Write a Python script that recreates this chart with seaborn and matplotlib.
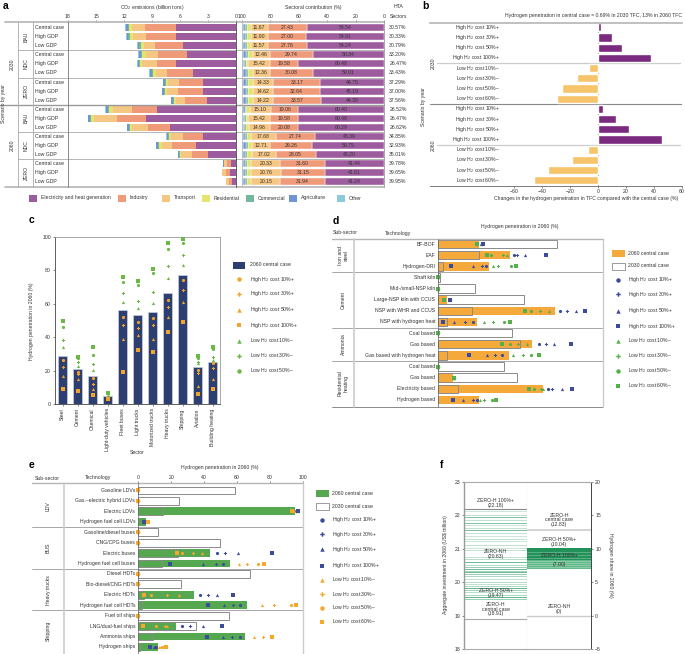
import numpy as np
import pandas as pd
import matplotlib
matplotlib.use('Agg')
import matplotlib.pyplot as plt
import seaborn as sns
from matplotlib.lines import Line2D
from matplotlib.patches import Rectangle

sns.set_theme(style='white')
plt.rcParams['font.family'] = ['Liberation Sans', 'DejaVu Sans']
plt.rcParams['mathtext.fontset'] = 'custom'
plt.rcParams['mathtext.rm'] = 'Liberation Sans'
plt.rcParams['mathtext.it'] = 'Liberation Sans:italic'
plt.rcParams['mathtext.bf'] = 'Liberation Sans:bold'
FS = 3.7
plt.rcParams['font.size'] = FS
TXT = '#333333'

# ---------------- data: panel a ----------------
a_years = ['2030', '2060']
a_scen = ['BAU', 'NDC', 'ZERO']
a_cases = ['Central case', 'High GDP', 'Low GDP']
a_total = [11.9, 11.8, 10.6, 10.5, 10.6, 9.3, 7.9, 8.0, 7.0,
           14.0, 15.9, 11.7, 7.5, 8.6, 6.3, 1.4, 1.6, 1.15]
a_elec = [54.54, 54.91, 54.24, 50.34, 60.48, 50.01, 44.75, 45.19, 44.38,
          60.40, 60.48, 60.29, 48.39, 50.75, 48.20, 41.44, 41.61, 41.24]
a_ind = [27.43, 27.00, 27.76, 29.74, 19.58, 30.08, 33.17, 32.64, 33.57,
         19.06, 19.58, 20.08, 27.74, 29.26, 28.05, 31.60, 31.15, 31.94]
a_trans = [11.67, 11.90, 11.57, 12.46, 15.42, 12.36, 14.33, 14.62, 14.22,
           15.10, 15.42, 14.96, 17.68, 12.71, 17.02, 20.33, 20.76, 20.15]
a_res = [2.9, 2.8, 2.9, 3.4, 2.0, 3.4, 3.5, 3.4, 3.5, 2.4, 2.0, 2.1, 2.8, 3.3, 3.0, 3.0, 2.9, 3.0]
a_com = [1.3, 1.3, 1.3, 1.5, 0.9, 1.5, 1.6, 1.5, 1.6, 1.1, 0.9, 0.9, 1.2, 1.5, 1.3, 1.3, 1.3, 1.3]
a_agr = [1.6, 1.6, 1.7, 1.9, 1.2, 2.0, 2.0, 2.0, 2.0, 1.4, 1.2, 1.2, 1.6, 1.9, 1.8, 1.7, 1.7, 1.7]
a_hta = ['30.57%', '30.33%', '30.79%', '33.20%', '26.47%', '33.43%', '37.29%', '37.00%', '37.56%',
         '26.52%', '26.47%', '26.62%', '34.85%', '32.93%', '35.01%', '39.78%', '39.65%', '39.95%']
a_sectors = ['Electricity and heat generation', 'Industry', 'Transport', 'Residential',
             'Commercial', 'Agriculture', 'Other']

# ---------------- data: panel b ----------------
b_years = ['2030', '2060']
b_labels = ['High H$_2$ cost 10%+', 'High H$_2$ cost 30%+', 'High H$_2$ cost 50%+', 'High H$_2$ cost 100%+',
            'Low H$_2$ cost 10%–', 'Low H$_2$ cost 30%–', 'Low H$_2$ cost 50%–', 'Low H$_2$ cost 60%–']
b_2030 = [2.4, 10.0, 17.4, 38.0, -6.0, -14.5, -25.5, -29.0]
b_2060 = [4.0, 13.0, 22.6, 45.7, -7.0, -18.6, -35.7, -45.5]

# ---------------- data: panel c ----------------
c_sectors = ['Steel', 'Cement', 'Chemical', 'Light-duty vehicles', 'Fleet buses', 'Light trucks',
             'Motorized trucks', 'Heavy trucks', 'Shipping', 'Aviation', 'Building heating']
c_central = [29, 21, 17, 5, 56.3, 53.3, 55.3, 66.3, 77.3, 22, 25]
c_h10 = [26.3, 19.0, 15.4, 4.4, 52.3, 49.3, 51.3, 62.3, 74.3, 20.4, 24.3]
c_h30 = [22.2, 18.2, 12.2, 4.0, 47.3, 45.3, 47.3, 58.3, 68.3, 18.4, 21.4]
c_h50 = [17.0, 15.0, 9.0, 3.6, 39.1, 41.1, 39.1, 52.1, 61.1, 10.8, 15.0]
c_h100 = [9.2, 8.0, 5.2, 3.2, 19.2, 32.3, 31.1, 43.3, 49.3, 6.2, 9.0]
c_l10 = [34.0, 22.7, 20.2, 5.5, 61.0, 57.3, 60.3, 75.2, 83.4, 24.4, 26.3]
c_l30 = [38.3, 25.3, 24.1, 6.0, 66.3, 61.5, 67.3, 82.6, 89.2, 25.3, 28.3]
c_l50 = [46.3, 27.7, 29.1, 6.4, 73.2, 71.3, 78.2, 92.8, 96.6, 27.5, 33.1]
c_l60 = [49.5, 28.3, 34.1, 6.8, 76.2, 73.4, 80.6, 96.6, 98.8, 28.5, 34.0]

# ---------------- data: panel d ----------------
d_groups = ['Iron and\nsteel', 'Cement', 'Ammonia', 'Residential\nheating']
d_tech = ['BF-BOF', 'EAF', 'Hydrogen-DRI', 'Shaft kiln', 'Mid-/small-NSP kiln', 'Large-NSP kiln with CCUS',
          'NSP with WHR and CCUS', 'NSP with hydrogen heat', 'Coal based', 'Gas based',
          'Gas based with hydrogen heat', 'Coal based', 'Gas based', 'Electricity based', 'Hydrogen based']
d_2060 = [24.8, 43.8, 30.9, 0, 0, 5.0, 70.7, 23.8, 0, 56.6, 43.0, 0, 8.7, 63.8, 24.8]
d_2030 = [72.1, 24.8, 3.0, 1.0, 22.2, 51.9, 20.2, 5.0, 45.0, 49.9, 5.0, 40.0, 47.9, 12.1, 0.0]
d_h10 = [26.3, 46.0, 28.9, 0, 0, 7.0, 73.7, 21.2, 0, 61.0, 38.8, 0, 9.5, 66.7, 23.6]
d_h30 = [26.3, 47.5, 26.7, 0, 0, 7.0, 78.2, 16.2, 0, 65.3, 34.3, 0, 9.5, 69.3, 20.8]
d_h50 = [26.0, 52.7, 21.2, 0, 0, 6.5, 83.8, 9.5, 0, 70.3, 29.3, 0, 9.5, 75.2, 15.2]
d_h100 = [27.0, 65.3, 7.7, 0, 0, 7.0, 88.9, 3.0, 0, 80.8, 18.6, 0, 9.5, 81.2, 9.1]
d_l10 = [23.4, 42.0, 33.3, 0, 0, 3.6, 67.0, 27.9, 0, 54.1, 45.5, 0, 9.5, 63.6, 25.3]
d_l30 = [23.4, 39.4, 36.0, 0, 0, 3.6, 62.0, 33.3, 0, 48.5, 51.5, 0, 9.5, 62.6, 27.7]
d_l50 = [23.4, 31.7, 44.4, 0, 0, 3.6, 56.0, 39.8, 0, 43.4, 56.2, 0, 9.5, 58.0, 32.7]
d_l60 = [23.4, 29.3, 46.9, 0, 0, 3.6, 52.5, 43.4, 0, 38.8, 61.0, 0, 9.5, 55.2, 34.9]

# ---------------- data: panel e ----------------
e_groups = ['LDV', 'BUS', 'Heavy trucks', 'Shipping']
e_tech = ['Gasoline LDVs', 'Gas.–electric hybrid LDVs', 'Electric LDVs', 'Hydrogen fuel cell LDVs',
          'Gasoline/diesel buses', 'CNG/CPG buses', 'Electric buses', 'Hydrogen fuel cell buses',
          'Diesel HDTs', 'Bio-diesel/CNG HDTs', 'Electric HDTs', 'Hydrogen fuel cell HDTs',
          'Fuel oil ships', 'LNG/dual-fuel ships', 'Ammonia ships', 'Hydrogen ships']
e_2060 = [0, 0, 95.1, 4.7, 0, 0, 43.8, 55.8, 0, 0, 33.9, 65.9, 0, 22.7, 64.9, 11.8]
e_2030 = [59.0, 25.0, 14.8, 0, 12.2, 49.9, 23.9, 14.2, 68.2, 26.2, 3.7, 2.0, 55.0, 35.1, 9.1, 1.0]
e_h10 = [0, 0, 95.8, 4.2, 0, 0, 47.9, 51.3, 0, 0, 37.7, 62.1, 0, 26.4, 62.1, 10.8]
e_h30 = [0, 0, 96.2, 3.9, 0, 0, 52.7, 47.3, 0, 0, 42.2, 57.8, 0, 31.6, 57.2, 10.3]
e_h50 = [0, 0, 96.6, 3.6, 0, 0, 60.6, 39.1, 0, 0, 47.9, 52.3, 0, 39.1, 51.5, 9.7]
e_h100 = [0, 0, 97.0, 3.3, 0, 0, 81.1, 19.3, 0, 0, 57.4, 42.6, 0, 50.7, 42.0, 7.1]
e_l10 = [0, 0, 94.6, 5.0, 0, 0, 38.5, 61.0, 0, 0, 25.0, 75.0, 0, 17.5, 70.6, 12.8]
e_l30 = [0, 0, 94.3, 5.3, 0, 0, 33.5, 66.1, 0, 0, 17.6, 82.6, 0, 16.0, 75.7, 14.0]
e_l50 = [0, 0, 94.0, 5.6, 0, 0, 26.6, 72.8, 0, 0, 7.5, 92.7, 0, 10.5, 81.1, 15.2]
e_l60 = [0, 0, 93.7, 5.9, 0, 0, 23.3, 76.3, 0, 0, 3.7, 96.1, 0, 3.0, 81.5, 16.6]

# ---------------- data: panel f ----------------
f_inv_labels = ['ZERO-H 100%+\n(22.18)', 'ZERO-NH\n(20.63)', 'ZERO-H 50%+\n(19.47)', 'ZERO-H\ncentral case\n(18.91)']
f_inv = [22.18, 20.63, 19.47, 18.91]
f_share_labels = ['ZERO-H\ncentral case\n(12.83)', 'ZERO-H 50%+\n(10.04)', 'ZERO-H 100%+', 'ZERO-NH\n(0)']
f_share = [12.83, 10.04, 7.00, 0.0]
f_stripes = [22.12, 22.02, 21.95, 21.87, 21.78, 21.70, 21.62, 21.55, 21.47, 21.38, 21.30, 21.22,
             21.12, 21.03, 20.95, 20.75, 20.68, 20.60, 20.52, 20.46, 20.40, 20.35, 20.30, 20.25,
             20.18, 20.10, 20.02, 19.95, 19.88, 19.82, 19.76, 19.70, 19.62, 19.56, 19.50]
f_stripe_alpha = [0.25, 0.3, 0.6, 0.3, 0.6, 0.25, 0.3, 0.65, 0.3, 0.25, 0.3, 0.25,
                  0.3, 0.25, 0.3, 0.3, 0.35, 0.7, 0.35, 0.5, 0.7, 0.45, 0.7, 0.5,
                  0.4, 0.3, 0.35, 0.3, 0.4, 0.75, 0.45, 0.35, 0.4, 0.75, 0.5]

# ---------------- colours ----------------
a_colors = ['#9d5c9e', '#ef9b7a', '#f6c683', '#e4e46f', '#73b89c', '#6f96d1', '#8ccbdc']
b_purple, b_orange = '#7a2a7f', '#f6c46a'
c_navy, c_orange, c_green = '#2c3f70', '#f2a32a', '#6ab845'
d_orange, blue, d_green = '#f6a93b', '#3d4b9c', '#55b04c'
e_green, e_orange = '#55a84f', '#f5a82a'

W, H = 685, 654
fig = plt.figure(figsize=(W / 100, H / 100), dpi=100)


def add_ax(x0, y0, x1, y1):
    return fig.add_axes([x0 / W, 1 - y1 / H, (x1 - x0) / W, (y1 - y0) / H])


def ftext(x, y, s, **kw):
    kw.setdefault('fontsize', FS)
    kw.setdefault('color', TXT)
    kw.setdefault('va', 'center')
    fig.text(x / W, 1 - y / H, s, **kw)


def fline(xs, ys, **kw):
    fig.add_artist(Line2D([x / W for x in xs], [1 - y / H for y in ys], **kw))


def fmark(x, y, **kw):
    fig.add_artist(Line2D([x / W], [1 - y / H], ls='none', **kw))


def frect(x, y, w, h, **kw):
    fig.add_artist(Rectangle((x / W, 1 - (y + h) / H), w / W, h / H, **kw))


def clean(ax):
    for s in ax.spines.values():
        s.set_visible(False)
    ax.set_xlabel('')
    ax.set_ylabel('')
    ax.set_facecolor('none')


def letter(x, y, s):
    fig.text(x / W, 1 - y / H, s, fontsize=7.5, fontweight='bold', color='black', va='center')


# ======================= panel a =======================
n_a = len(a_total)
ya = np.arange(n_a)
top_a, bot_a, r0_a, sp_a = 22, 187, 27.7, 9.06
ylim_a = (17 + (bot_a - (r0_a + 17 * sp_a)) / sp_a, -(r0_a - top_a) / sp_a)
a_oth = [100 - e - i - t - r - c - g for e, i, t, r, c, g in zip(a_elec, a_ind, a_trans, a_res, a_com, a_agr)]
shares = [a_elec, a_ind, a_trans, a_res, a_com, a_agr, a_oth]

axL = add_ax(68, top_a, 236.5, bot_a)
axR = add_ax(242, top_a, 384, bot_a)
cum_abs = np.zeros(n_a)
cum_pct = np.zeros(n_a)
tot = np.array(a_total)
for k, (s, col) in enumerate(zip(shares, a_colors)):
    s = np.array(s)
    v = s / 100 * tot
    axL.barh(ya, v, left=cum_abs, height=0.78, color=col, edgecolor='none')
    axR.barh(ya, s, left=cum_pct, height=0.78, color=col, edgecolor='white', linewidth=0.3)
    if k < 3:
        for yy, c0, sv in zip(ya, cum_pct, s):
            axR.text(c0 + sv / 2, yy, f'{sv:.2f}', ha='center', va='center', fontsize=FS, color=TXT)
    cum_abs += v
    cum_pct += s
for ax, lim, ticks in [(axL, (18, 0), [18, 15, 12, 9, 6, 3, 0]), (axR, (100, 0), [100, 80, 60, 40, 20, 0])]:
    clean(ax)
    ax.set_xlim(*lim)
    ax.set_ylim(*ylim_a)
    ax.xaxis.tick_top()
    ax.set_xticks(ticks)
    ax.set_xticklabels([str(t) for t in ticks])
    ax.set_yticks([])
    ax.tick_params(axis='x', length=1.5, width=0.4, pad=1, labelsize=FS, colors=TXT, top=True, bottom=False)

ftext(152, 7, 'CO$_2$ emissions (billion tons)', ha='center')
ftext(313, 7, 'Sectoral contribution (%)', ha='center')
ftext(398, 6, 'HTA', ha='center')
ftext(399, 17, 'Sectors', ha='center')
row_y = [r0_a + sp_a * i for i in range(n_a)]
for i, yy in enumerate(row_y):
    ftext(35, yy, a_cases[i % 3], ha='left')
    ftext(398, yy, a_hta[i], ha='center')
for g in range(6):
    ftext(26, r0_a + sp_a * (3 * g + 1), a_scen[g % 3], rotation=90, ha='center')
ftext(12, r0_a + sp_a * 4, a_years[0], rotation=90, ha='center')
ftext(12, r0_a + sp_a * 13, a_years[1], rotation=90, ha='center')
ftext(4, 104, 'Scenario by year', rotation=90, ha='center')
fline([5, 384], [top_a, top_a], color='#b5b5b5', lw=1.2)
fline([5, 384], [bot_a, bot_a], color='#b5b5b5', lw=1.2)
fline([0, 384], [r0_a + sp_a * 8.5] * 2, color='#9a9a9a', lw=1.0)
for r in [2.5, 5.5, 11.5, 14.5]:
    fline([18, 384], [r0_a + sp_a * r] * 2, color='#ababab', lw=0.6)
for xv, col in [(18, '#aaaaaa'), (33, '#aaaaaa'), (68, '#777777'), (236.5, '#444444'), (242, '#bbbbbb'), (384, '#999999')]:
    fline([xv, xv], [top_a, bot_a], color=col, lw=0.6)
leg_x = [29, 118, 162, 202, 246, 289, 337]
for xx, lab, col in zip(leg_x, a_sectors, a_colors):
    frect(xx, 194.5, 8, 7, facecolor=col, edgecolor='none')
    ftext(xx + 12, 198, lab, ha='left')

# ======================= panel b =======================
axB = add_ax(430, 23, 682, 186)
dfb = pd.DataFrame({'row': [f'{y} {l}' for y in b_years for l in b_labels],
                    'change': b_2030 + b_2060,
                    'dir': (['High'] * 4 + ['Low'] * 4) * 2})
sns.barplot(data=dfb, x='change', y='row', hue='dir', palette={'High': b_purple, 'Low': b_orange},
            dodge=False, saturation=1, width=0.8, orient='h', legend=False, ax=axB)
clean(axB)
axB.set_xlim(-119.8, 60.2)
axB.set_ylim(15.56, -0.42)
axB.set_yticks([])
bt = [-60, -40, -20, 0, 20, 40, 60]
axB.set_xticks(bt)
axB.set_xticklabels([str(t).replace('-', '−') for t in bt])
axB.tick_params(axis='x', length=1.5, width=0.4, pad=1, labelsize=FS, colors=TXT, bottom=True)
axB.spines['bottom'].set_visible(True)
axB.spines['bottom'].set_color('#666666')
axB.spines['bottom'].set_linewidth(0.6)
axB.spines['top'].set_visible(True)
axB.spines['top'].set_color('#b5b5b5')
axB.spines['top'].set_linewidth(1.2)
axB.axvline(0, color='#888888', lw=0.6, zorder=0)
for r in [3.5, 11.5]:
    axB.plot([-114.8, 58.8], [r, r], color='#cccccc', lw=0.9, zorder=0)
axB.axhline(7.5, color='#888888', lw=0.8, zorder=0)
for i, lab in enumerate(b_labels * 2):
    axB.text(-69.8, i, lab, ha='right', va='center', fontsize=FS, color=TXT)
ftext(433, 63, b_years[0], rotation=90, ha='center')
ftext(433, 145, b_years[1], rotation=90, ha='center')
ftext(424, 107, 'Scenario by year', rotation=90, ha='center')
ftext(682, 15, 'Hydrogen penetration in central case = 0.69% in 2030 TFC, 13% in 2060 TFC', ha='right')
ftext(586, 198.5, 'Changes in the hydrogen penetration in TFC compared with the central case (%)', ha='center')

# ======================= panel c =======================
axC = add_ax(55, 237, 220, 404)
sns.barplot(x=c_sectors, y=c_central, color=c_navy, saturation=1, width=0.62, ax=axC,
            edgecolor='#c9cfe0', linewidth=0.5)
xc = np.arange(len(c_sectors))
mk_h = ['o', 'P', '^', 's']
mk_l = ['^', 'P', 'o', 's']
for vals, m in zip([c_h10, c_h30, c_h50, c_h100], mk_h):
    axC.plot(xc, vals, ls='none', marker=m, ms=2.3, color=c_orange, mew=0, zorder=5)
for vals, m in zip([c_l10, c_l30, c_l50, c_l60], mk_l):
    axC.plot(xc, vals, ls='none', marker=m, ms=2.3, color=c_green, mew=0, zorder=5, clip_on=False)
axC.set_xlim(-0.5, 10.5)
axC.set_ylim(0, 100)
axC.set_yticks([0, 20, 40, 60, 80, 100])
axC.set_yticklabels(['0', '20', '40', '60', '80', '100'])
axC.set_xticks(xc)
axC.set_xticklabels(c_sectors, rotation=90)
axC.set_xlabel('')
axC.set_ylabel('')
axC.tick_params(axis='both', length=1.5, width=0.4, pad=1.5, labelsize=FS, colors=TXT, left=True, bottom=True)
for sp, col in [('left', '#444444'), ('bottom', '#444444'), ('top', '#999999'), ('right', '#999999')]:
    axC.spines[sp].set_visible(True)
    axC.spines[sp].set_color(col)
    axC.spines[sp].set_linewidth(0.6)
ftext(32, 321, 'Hydrogen penetration in 2060 (%)', rotation=90, ha='center')
ftext(137, 453, 'Sector', ha='center')
frect(233, 261.5, 12, 7, facecolor=c_navy, edgecolor='none')
ftext(250, 265, '2060 central case', ha='left')
c_leg = ['High H$_2$ cost 10%+', 'High H$_2$ cost 30%+', 'High H$_2$ cost 50%+', 'High H$_2$ cost 100%+',
         'Low H$_2$ cost 10%–', 'Low H$_2$ cost 30%–', 'Low H$_2$ cost 50%–']
c_leg_y = [279.3, 293.7, 310, 325.3, 341, 356, 370.7]
c_leg_m = mk_h + mk_l[:3]
c_leg_c = [c_orange] * 4 + [c_green] * 3
for lab, yy, m, col in zip(c_leg, c_leg_y, c_leg_m, c_leg_c):
    fmark(239, yy, marker=m, ms=3.2, color=col, mew=0)
    ftext(250, yy, lab, ha='left')


# ======================= panels d and e helpers =======================
def tech_panel(x0, top, x1, bot, r0, sp, n, bar2060, bar2030, bar_col, hi, lo, hi_col, lo_col, tech, groups,
               group_rows, col_left, col_mid, group_x, seps, ticks_top):
    ax = add_ax(x0, top, x1, bot)
    ys = np.arange(n)
    ax.barh(ys, bar2060, height=0.76, color=bar_col, edgecolor='none', zorder=2)
    ax.barh(ys, bar2030, height=0.76, facecolor='none', edgecolor='#8a8a8a', linewidth=0.7, zorder=3)
    for vals, m in zip(hi, mk_h):
        ax.plot(vals, ys, ls='none', marker=m, ms=2.3, color=hi_col, mew=0, zorder=5, clip_on=False)
    for vals, m in zip(lo, mk_l):
        ax.plot(vals, ys, ls='none', marker=m, ms=2.3, color=lo_col, mew=0, zorder=6, clip_on=False)
    clean(ax)
    ax.set_xlim(0, 100)
    ax.set_ylim(n - 1 + (bot - (r0 + sp * (n - 1))) / sp, -(r0 - top) / sp)
    ax.set_yticks([])
    ax.xaxis.tick_top()
    ax.set_xticks([0, 20, 40, 60, 80, 100])
    if ticks_top:
        ax.set_xticklabels(['0', '20', '40', '60', '80', '100'])
        ax.tick_params(axis='x', length=1.5, width=0.4, pad=1, labelsize=FS, colors=TXT, top=True, bottom=False)
    else:
        ax.set_xticklabels([])
        ax.tick_params(axis='x', length=0, top=False, bottom=False)
    for i, t in enumerate(tech):
        ftext(x0 - 3, r0 + sp * i, t, ha='right')
    for g, rr in zip(groups, group_rows):
        ftext(group_x, r0 + sp * rr, g, rotation=90, ha='center', multialignment='center')
    fline([col_left, x1], [top, top], color='#b5b5b5', lw=1.0)
    fline([col_left, x1], [bot, bot], color='#777777', lw=0.6)
    for r in seps:
        fline([col_left, x1], [r0 + sp * r] * 2, color='#9a9a9a', lw=0.6)
    fline([col_mid, col_mid], [top, bot], color='#cccccc', lw=1.2)
    fline([x0, x0], [top, bot], color='#666666', lw=0.5)
    fline([x1, x1], [top, bot], color='#cccccc', lw=1.0)
    return ax


def tech_legend(x_p, x_t, ys, c2060, hi_col, lo_col):
    labs = ['2060 central case', '2030 central case',
            'High H$_2$ cost 10%+', 'High H$_2$ cost 30%+', 'High H$_2$ cost 50%+', 'High H$_2$ cost 100%+',
            'Low H$_2$ cost 10%–', 'Low H$_2$ cost 30%–', 'Low H$_2$ cost 50%–', 'Low H$_2$ cost 60%–']
    frect(x_p, ys[0] - 3.5, 13, 7, facecolor=c2060, edgecolor='none')
    frect(x_p, ys[1] - 3.5, 13, 7, facecolor='white', edgecolor='#8a8a8a', linewidth=0.6)
    ms = mk_h + mk_l
    cols = [hi_col] * 4 + [lo_col] * 4
    for k in range(10):
        if k >= 2:
            fmark(x_p + 6.5, ys[k], marker=ms[k - 2], ms=3.2, color=cols[k - 2], mew=0)
        ftext(x_t, ys[k], labs[k], ha='left')


# ======================= panel d =======================
tech_panel(438.3, 238.5, 603, 407, 244, 11.14, len(d_tech), d_2060, d_2030, d_orange,
           [d_h10, d_h30, d_h50, d_h100], [d_l10, d_l30, d_l50, d_l60], blue, d_green,
           d_tech, d_groups, [1, 5, 9, 12.5], 332, 354, 343, [2.5, 7.5, 10.5], False)
ftext(345, 233, 'Sub-sector', ha='center')
ftext(398, 233, 'Technology', ha='center')
ftext(520, 227, 'Hydrogen penetration in 2060 (%)', ha='center')
tech_legend(611.7, 628, [253.3, 266, 280, 294.3, 310.7, 326, 341, 356, 370.7, 385.7], d_orange, blue, d_green)

# ======================= panel e =======================
tech_panel(138.3, 483, 302.7, 656, 490.5, 10.43, len(e_tech), e_2060, e_2030, e_green,
           [e_h10, e_h30, e_h50, e_h100], [e_l10, e_l30, e_l50, e_l60], blue, e_orange,
           e_tech, e_groups, [1.5, 5.5, 9.5, 13.5], 32, 64, 48, [3.5, 7.5, 11.5], True)
ftext(47, 478, 'Sub-sector', ha='center')
ftext(98, 478, 'Technology', ha='center')
ftext(220, 467, 'Hydrogen penetration in 2060 (%)', ha='center')
tech_legend(315.7, 331.7, [493.3, 506.3, 520, 534.3, 549.3, 565.7, 580, 594.3, 608, 622], e_green, blue, e_orange)

# ======================= panel f =======================
axF1 = add_ax(464.3, 481.7, 527.3, 649.3)
axF2 = add_ax(527.3, 481.7, 591, 649.3)
for yv, al in zip(f_stripes, f_stripe_alpha):
    axF1.axhline(yv, color='#2e9e6a', lw=0.7, alpha=al, zorder=1)
axF1.axhline(f_inv[0], color='#8a8a8a', lw=0.8, zorder=2)
axF1.axhline(f_inv[3], color='#aaaaaa', lw=0.8, zorder=2)
f1_text_y = [22.36, 20.85, 19.67, 19.2]
for lab, yy in zip(f_inv_labels, f1_text_y):
    axF1.text(0.5, yy, lab, ha='center', va='center', fontsize=FS, color=TXT, linespacing=0.95, zorder=4)
axF1.set_xlim(0, 1)
axF1.set_ylim(18, 23)
axF1.set_xticks([])
axF1.set_yticks([18, 19, 20, 21, 22, 23])
axF1.set_yticklabels(['18', '19', '20', '21', '22', '23'])
axF1.tick_params(axis='y', length=1.5, width=0.4, pad=1, labelsize=FS, colors=TXT, left=True)
for sp, col, lw in [('left', '#999999', 1.0), ('right', '#aaaaaa', 0.8), ('top', '#aaaaaa', 0.8), ('bottom', '#aaaaaa', 0.8)]:
    axF1.spines[sp].set_visible(True)
    axF1.spines[sp].set_color(col)
    axF1.spines[sp].set_linewidth(lw)

axF2.axhspan(8.3, f_share[1], color='#23915a', lw=0, zorder=1)
axF2.axhspan(f_share[2], 8.3, color='#62b98a', lw=0, zorder=1)
for yv in [7.3, 7.6, 7.9, 8.15, 8.6, 9.0, 9.5]:
    axF2.axhline(yv, color='white', lw=0.4, alpha=0.45, zorder=2)
axF2.axhline(f_share[0], color='#cccccc', lw=1.2, zorder=2)
axF2.axhline(f_share[3], color='#cccccc', lw=1.0, zorder=2)
f2_text_y = [14.3, 11.0, 9.0, 1.05]
for lab, yy in zip(f_share_labels, f2_text_y):
    axF2.text(0.5, yy, lab, ha='center', va='center', fontsize=FS, color=TXT, linespacing=0.95, zorder=4)
axF2.text(0.5, 7.6, '(7.00)', ha='center', va='center', fontsize=FS, color=TXT, zorder=4)
axF2.set_xlim(0, 1)
axF2.set_ylim(-5, 20)
axF2.set_xticks([])
axF2.yaxis.tick_right()
axF2.set_yticks([-5, 0, 5, 10, 15, 20])
axF2.set_yticklabels(['−5', '0', '5', '10', '15', '20'])
axF2.tick_params(axis='y', length=1.5, width=0.4, pad=1.5, labelsize=FS, colors=TXT, right=True, left=False)
for sp, col, lw, vis in [('left', '#aaaaaa', 0.8, False), ('right', '#444444', 0.7, True),
                         ('top', '#aaaaaa', 0.8, True), ('bottom', '#aaaaaa', 0.8, True)]:
    axF2.spines[sp].set_visible(vis)
    axF2.spines[sp].set_color(col)
    axF2.spines[sp].set_linewidth(lw)
ftext(445, 565, 'Aggregate investment in 2060 (US$ trillion)', rotation=90, ha='center')
ftext(611, 565, 'Hydrogen share in 2060 (%)', rotation=270, ha='center')

# ======================= panel letters =======================
letter(3, 6, 'a')
letter(422, 6, 'b')
letter(29, 220, 'c')
letter(333, 221, 'd')
letter(29, 465, 'e')
letter(440, 465, 'f')

fig.savefig('out.png', dpi=100, facecolor='white')
